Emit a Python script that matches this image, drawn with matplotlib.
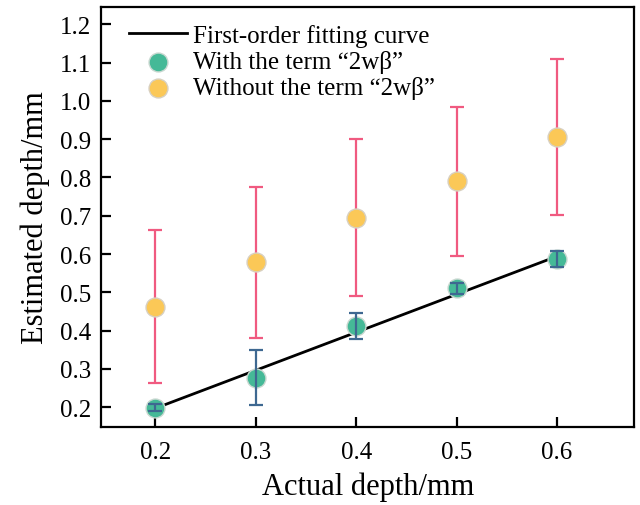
import numpy as np
import matplotlib
matplotlib.use("Agg")
import matplotlib.pyplot as plt

plt.rcParams["font.family"] = ["Liberation Serif", "DejaVu Serif"]

# data
actual = [0.2, 0.3, 0.4, 0.5, 0.6]
with_term = [0.199, 0.277, 0.412, 0.510, 0.587]
with_err = [0.010, 0.072, 0.033, 0.015, 0.020]
without_term = [0.462, 0.578, 0.695, 0.790, 0.906]
without_err = [0.200, 0.198, 0.205, 0.195, 0.203]
fit_x = [0.2, 0.6]
fit_y = [0.197, 0.594]

fig = plt.figure(figsize=(6.4, 5.06), dpi=100)
ax = fig.add_axes([0.158, 0.154, 0.833, 0.830])

ax.plot(fit_x, fit_y, color="black", lw=2, label="First-order fitting curve", zorder=2)

ax.errorbar(actual, without_term, yerr=without_err, fmt="none", ecolor="#F05A80",
            elinewidth=1.6, capsize=5, capthick=1.6, zorder=3)
ax.scatter(actual, without_term, s=185, color="#FBC857", edgecolors="#D8D0C0",
           linewidths=1, zorder=4, label="Without the term \u201c2w\u03b2\u201d")

ax.scatter(actual, with_term, s=185, color="#45B997", edgecolors="#C8D8D0",
           linewidths=1, zorder=4, label="With the term \u201c2w\u03b2\u201d")
ax.errorbar(actual, with_term, yerr=with_err, fmt="none", ecolor="#3E6891",
            elinewidth=1.6, capsize=5, capthick=1.6, zorder=5)

ax.set_xlim(0.146, 0.677)
ax.set_ylim(0.148, 1.245)
ax.set_xticks(actual)
ax.set_xticklabels(["0.2", "0.3", "0.4", "0.5", "0.6"])
ax.set_yticks(np.round(np.arange(0.2, 1.21, 0.1), 1))
ax.set_yticklabels([f"{v:.1f}" for v in np.arange(0.2, 1.21, 0.1)])
ax.tick_params(direction="in", length=7, width=1.6, labelsize=18, pad=7)
ax.tick_params(axis="x", pad=10)
for sp in ax.spines.values():
    sp.set_linewidth(1.6)

ax.set_xlabel("Actual depth/mm", fontsize=22, labelpad=6)
ax.set_ylabel("Estimated depth/mm", fontsize=22, labelpad=7)

h, l = ax.get_legend_handles_labels()
order = [0, 2, 1]
ax.legend([h[i] for i in order], [l[i] for i in order], loc="upper left",
          frameon=False, fontsize=18, handlelength=2.3, handletextpad=0.25,
          labelspacing=0.12, borderaxespad=0.2, bbox_to_anchor=(0.025, 0.995))

fig.savefig("out.png", dpi=100)
